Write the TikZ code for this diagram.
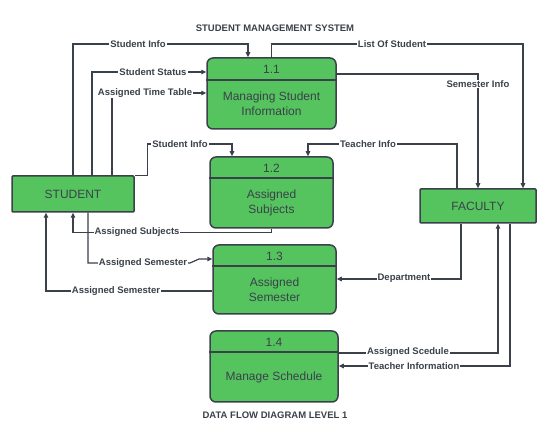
\documentclass[tikz,border=0pt]{standalone}
\usepackage{fontspec}
\setmainfont{Liberation Sans}
\usetikzlibrary{arrows.meta}
\definecolor{boxgreen}{RGB}{85,196,95}
\definecolor{ink}{RGB}{58,65,74}
\tikzset{
  proc/.style={draw=ink, fill=boxgreen, line width=1.5pt, rounded corners=6pt, inner sep=0pt},
  ext/.style={draw=ink, fill=boxgreen, line width=1.5pt, rounded corners=1pt, inner sep=0pt, text=ink, font=\fontsize{12}{15}\selectfont},
  ptxt/.style={text=ink, font=\fontsize{12}{15}\selectfont, align=center, inner sep=0pt},
  divider/.style={draw=ink, line width=1.5pt},
  flow/.style={draw=ink, line width=1.2pt, -{Triangle[length=5pt,width=4.5pt]}},
  plainflow/.style={draw=ink, line width=1.2pt},
  lbl/.style={fill=white, text=ink, inner sep=1pt, font=\bfseries\fontsize{9.5}{11}\selectfont},
  ttl/.style={text=ink, inner sep=0pt, font=\bfseries\fontsize{9.5}{11}\selectfont}
}
\begin{document}
\begin{tikzpicture}[x=1pt,y=-1pt]
\useasboundingbox (0,0) rectangle (549,443);

% titles
\node[ttl] (title) at (275,28) {STUDENT MANAGEMENT SYSTEM};
\node[ttl] (footer) at (275,415) {DATA FLOW DIAGRAM LEVEL 1};

% external entities
\node[ext, minimum width=122pt, minimum height=36pt] (student) at (73,194) {STUDENT};
\node[ext, minimum width=116pt, minimum height=34pt] (faculty) at (478,206) {FACULTY};

% processes
\node[proc, minimum width=129pt, minimum height=71pt] (p1) at (271.5,93.5) {};
\draw[divider] ([yshift=-23pt]p1.north west) -- ([yshift=-23pt]p1.north east);
\node[ptxt] (p1n) at (271.5,69) {1.1};
\node[ptxt] (p1t) at (271.5,104) {Managing Student\\Information};

\node[proc, minimum width=123pt, minimum height=71pt] (p2) at (271.5,192.5) {};
\draw[divider] ([yshift=-22pt]p2.north west) -- ([yshift=-22pt]p2.north east);
\node[ptxt] (p2n) at (271.5,168) {1.2};
\node[ptxt] (p2t) at (271.5,203) {Assigned\\Subjects};

\node[proc, minimum width=123pt, minimum height=69pt] (p3) at (274.5,279.5) {};
\draw[divider] ([yshift=-22pt]p3.north west) -- ([yshift=-22pt]p3.north east);
\node[ptxt] (p3n) at (274.5,256) {1.3};
\node[ptxt] (p3t) at (274.5,290) {Assigned\\Semester};

\node[proc, minimum width=128pt, minimum height=71pt] (p4) at (274,366.5) {};
\draw[divider] ([yshift=-22pt]p4.north west) -- ([yshift=-22pt]p4.north east);
\node[ptxt] (p4n) at (274,342) {1.4};
\node[ptxt] (p4t) at (274,377) {Manage Schedule};

% flows
\draw[flow] (student.north) |- (248,44) -- ([xshift=-23.5pt]p1.north);
\draw[flow] ([xshift=19pt]student.north) |- ([yshift=21.5pt]p1.west);
\draw[flow] ([xshift=39pt]student.north) |- ([yshift=0.5pt]p1.west);
\draw[flow] (student.north east) -- ++(13,0) |- (232,144) -- ([xshift=-39.5pt]p2.north);
\draw[flow] (p1.north) |- (523,44) -- ([xshift=45pt]faculty.north);
\draw[flow] ([yshift=19.5pt]p1.east) -| (faculty.north);
\draw[flow] ([xshift=-21pt]faculty.north) |- (308,144) -- ([xshift=36.5pt]p2.north);
\draw[flow] (p2.south) -- ++(0,4) -| (student.south);
\draw[flow] ([xshift=15pt]student.south) |- (190,263) -- (199,259) -- ([yshift=20.5pt]p3.west);
\draw[flow] ([yshift=-11.5pt]p3.west) -| ([xshift=-27pt]student.south);
\draw[flow] ([xshift=-17pt]faculty.south) |- ([yshift=0.5pt]p3.east);
\draw[flow] ([yshift=13.5pt]p4.east) -| ([xshift=20pt]faculty.south);
\draw[flow] ([xshift=32pt]faculty.south) |- ([yshift=0.5pt]p4.east);

% flow labels
\node[lbl] (l1) at (138,44) {Student Info};
\node[lbl] (l2) at (153,72) {Student Status};
\node[lbl] (l3) at (145,93) {Assigned Time Table};
\node[lbl] (l4) at (180,144) {Student Info};
\node[lbl] (l5) at (392,44) {List Of Student};
\node[lbl] (l6) at (478,84) {Semester Info};
\node[lbl] (l7) at (368,144) {Teacher Info};
\node[lbl] (l8) at (137,232) {Assigned Subjects};
\node[lbl] (l9) at (143,263) {Assigned Semester};
\node[lbl] (l10) at (116,291) {Assigned Semester};
\node[lbl] (l11) at (404,278) {Department};
\node[lbl] (l12) at (408,352) {Assigned Scedule};
\node[lbl] (l13) at (414,366) {Teacher Information};
\end{tikzpicture}
\end{document}
